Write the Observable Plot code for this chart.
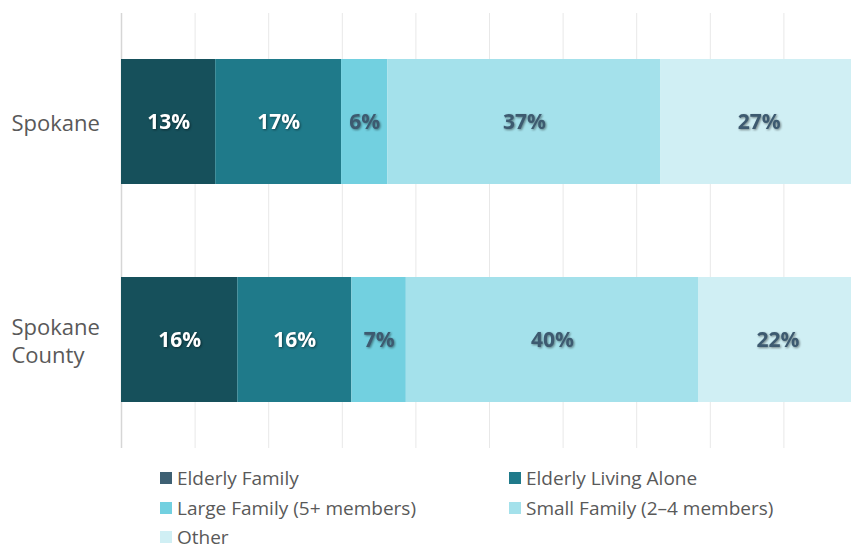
<!DOCTYPE html>
<html>
<head>
<meta charset="utf-8">
<script src="https://cdn.jsdelivr.net/npm/d3@7"></script>
<script src="https://cdn.jsdelivr.net/npm/@observablehq/plot@0.6"></script>
<style>
  html, body { margin: 0; padding: 0; background: #fff; overflow: hidden; }
  body { width: 851px; height: 551px; position: relative; font-family: "Open Sans", sans-serif; }
  .lbl text { filter: drop-shadow(1px 1px 1px rgba(0,0,0,0.45)); }
  #legend { position: absolute; left: 160px; top: 469px; display: grid;
    grid-template-columns: 349px auto; grid-auto-rows: 18px; row-gap: 11.5px; }
  .item { display: flex; align-items: center; font-size: 19px; line-height: 18px; height: 18px; color: #595959; white-space: nowrap; }
  .sw { width: 12px; height: 12px; margin-right: 5px; flex: none; }
</style>
</head>
<body>
<div id="chart"></div>
<div id="legend"></div>
<script>
const categories = ["Spokane", "Spokane County"];
const categoryLabels = ["Spokane", "Spokane\nCounty"];
const series = ["Elderly Family", "Elderly Living Alone", "Large Family (5+ members)", "Small Family (2\u20134 members)", "Other"];
const spokaneValues = [12.8, 17.1, 6.3, 37.1, 26.7];
const countyValues = [15.8, 15.5, 7.4, 39.7, 21.6];
const barColors = ["#16505b", "#1f7a8a", "#72d0e0", "#a4e1eb", "#d0eff4"];
const legendColors = ["#3e6073", "#1f7a8a", "#72d0e0", "#a4e1eb", "#d0eff4"];
const labelColors = ["#ffffff", "#ffffff", "#3d5a70", "#3d5a70", "#3d5a70"];
const gridTicks = [0, 10, 20, 30, 40, 50, 60, 70, 80, 90, 100];

const rows = [];
[spokaneValues, countyValues].forEach((vals, ci) => {
  vals.forEach((v, si) => rows.push({cat: categories[ci], series: series[si], si, value: v}));
});

const chart = Plot.plot({
  width: 851,
  height: 450,
  marginTop: 13,
  marginBottom: 2,
  marginLeft: 121,
  marginRight: 0,
  style: {fontFamily: "'Open Sans', sans-serif", background: "#fff"},
  x: {domain: [0, 100], range: [121, 857], axis: null},
  y: {domain: categories, paddingInner: 0.428, paddingOuter: 0.21, axis: null},
  color: {domain: series, range: barColors},
  marks: [
    Plot.ruleX(gridTicks.slice(1), {stroke: "#e8e8e8", strokeWidth: 1}),
    Plot.ruleX([0], {stroke: "#d6d6d6", strokeWidth: 1.5}),
    Plot.barX(rows, Plot.stackX({x: "value", y: "cat", fill: "series", order: null, inset: 0})),
    Plot.text(rows, Plot.stackX({
      x: "value", y: "cat", order: null,
      text: d => d3.format(".0f")(d.value) + "%",
      fill: d => labelColors[d.si],
      fontSize: 21, fontWeight: "bold",
      className: "lbl"
    })),
    Plot.text(categories, {
      y: d => d, frameAnchor: "left", dx: -110, textAnchor: "start",
      text: (d, i) => categoryLabels[i], fill: "#595959", fontSize: 22, lineHeight: 1.28
    })
  ]
});
document.getElementById("chart").appendChild(chart);

const legend = document.getElementById("legend");
series.forEach((s, i) => {
  const item = document.createElement("div");
  item.className = "item";
  const sw = document.createElement("span");
  sw.className = "sw";
  sw.style.background = legendColors[i];
  item.appendChild(sw);
  item.appendChild(document.createTextNode(s));
  legend.appendChild(item);
});
</script>
</body>
</html>
